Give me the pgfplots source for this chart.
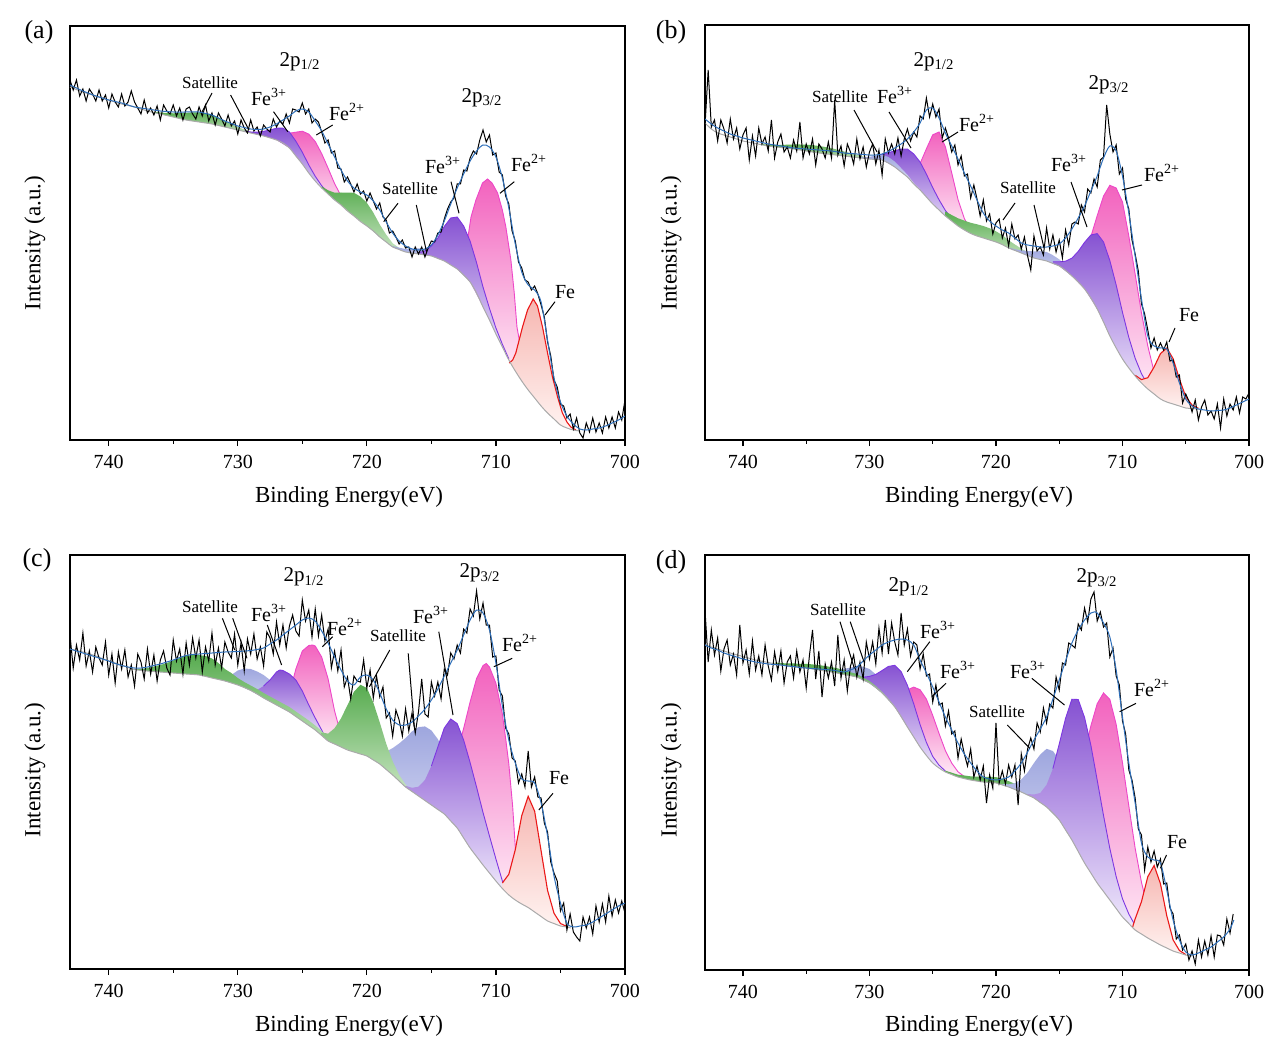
\documentclass[border=0pt]{standalone}
\usepackage{fontspec}
\setmainfont{Liberation Serif}
\usepackage{pgfplots}
\pgfplotsset{compat=1.18}
\definecolor{greenT}{RGB}{88,172,80}
\definecolor{greenB}{RGB}{198,228,192}
\definecolor{lavT}{RGB}{158,166,222}
\definecolor{lavB}{RGB}{232,235,250}
\definecolor{purT}{RGB}{134,82,210}
\definecolor{purB}{RGB}{238,231,251}
\definecolor{pinkT}{RGB}{242,98,190}
\definecolor{pinkB}{RGB}{255,238,247}
\definecolor{redT}{RGB}{246,182,177}
\definecolor{redB}{RGB}{255,243,241}
\definecolor{purL}{RGB}{125,55,225}
\definecolor{pinkL}{RGB}{238,70,200}
\definecolor{redL}{RGB}{235,25,25}
\definecolor{envB}{RGB}{45,110,185}
\definecolor{bgG}{RGB}{170,170,170}
\tikzset{
 gF/.style={draw=none, top color=greenT, bottom color=greenB},
 lF/.style={draw=none, top color=lavT, bottom color=lavB},
 pF/.style={draw=none, top color=purT, bottom color=purB},
 kF/.style={draw=none, top color=pinkT, bottom color=pinkB},
 rF/.style={draw=none, top color=redT, bottom color=redB},
 pL/.style={purL, line width=0.45pt},
 kL/.style={pinkL, line width=0.45pt},
 rL/.style={redL, line width=0.55pt},
}
\pgfplotsset{xps/.style={
  scale only axis, xmin=700, xmax=743, x dir=reverse, ymin=0,
  xtick={700,710,720,730,740}, minor xtick={705,715,725,735},
  ytick=\empty, xtick pos=left, tick align=outside,
  major tick length=3pt, minor tick length=1.8pt,
  every tick/.style={black, line width=0.6pt},
  axis line style={line width=0.7pt},
  tick label style={font=\fontsize{10}{12}\selectfont},
  xticklabel style={yshift=-1pt},
  /pgf/number format/assume math mode=true,
}}
\newcommand\fL{\fontsize{13}{15}\selectfont}
\newcommand\fP{\fontsize{10.5}{12}\selectfont}
\newcommand\fF{\fontsize{10}{12}\selectfont}
\newcommand\fS{\fontsize{8.5}{10}\selectfont}
\newcommand\fX{\fontsize{11.5}{13}\selectfont}
\begin{document}
\begin{tikzpicture}
\path[use as bounding box] (0,0) rectangle (641.5pt,-526.5pt);
% ================= (a) =================
\begin{axis}[xps, at={(35pt,-220pt)}, anchor=south west, width=277.5pt, height=207pt, ymax=414]
\addplot[gF] coordinates {(736.5,328.2)(736,327.5)(735.5,327)(735,326.7)(734.5,326.9)(734,327.1)(733.5,327.7)(733,327.7)(732.5,327)(732,325.4)(731.5,322.5)(731,319.4)(730.5,316.2)(730,313.1)(729.5,310.4)(729,308.1)(728.5,306.1)(729,307)(730,310)(731,313)(732,316)(733,318)(734,320)(735,323)(736,326)(736.5,327.5)} -- cycle;
\addplot[kF] coordinates {(727,303.6)(726.5,304.8)(726,306.8)(725.5,307.8)(725,308.8)(724.5,305.9)(724,298.5)(723.5,286.4)(723,271.7)(722.5,256.4)(722,244)(721.5,233.2)(721,225.7)(721,224)(722,235)(723,246)(724,259)(725,276)(726,292)(727,300)} -- cycle;
\addplot[kL] coordinates {(727,303.6)(726.5,304.8)(726,306.8)(725.5,307.8)(725,308.8)(724.5,305.9)(724,298.5)(723.5,286.4)(723,271.7)(722.5,256.4)(722,244)(721.5,233.2)(721,225.7)};
\addplot[pF] coordinates {(729.5,308.9)(729,308)(728.5,307.8)(728,308.7)(727.5,310)(727,311.8)(726.5,311.8)(726,308)(725.5,298.8)(725,287.8)(724.5,275)(724,263.7)(723.5,254.3)(723,247)(722.5,240.4)(723,246)(724,259)(725,276)(726,292)(727,300)(728,304)(729,307)(729.5,308.5)} -- cycle;
\addplot[pL] coordinates {(729.5,308.9)(729,308)(728.5,307.8)(728,308.7)(727.5,310)(727,311.8)(726.5,311.8)(726,308)(725.5,298.8)(725,287.8)(724.5,275)(724,263.7)(723.5,254.3)(723,247)(722.5,240.4)};
\addplot[gF] coordinates {(723.5,253.6)(723,249.7)(722.5,247.3)(722,247.5)(721.5,247.4)(721,247.2)(720.5,243.5)(720,237.2)(719.5,227.4)(719,215.5)(718.5,205.3)(718,196.7)(717.5,192.1)(717,188.6)(718,193)(719,203)(720,214)(721,224)(722,235)(723,246)(723.5,252)} -- cycle;
\addplot[lF] coordinates {(718,193.9)(717.5,192.3)(717,191)(716.5,191.4)(716,191.6)(715.5,191)(715,189.6)(714.5,185.9)(714,182)(713.5,176.8)(713,171.9)(714,179)(715,184)(716,186)(717,188)(718,193)} -- cycle;
\addplot[kF] coordinates {(712.8,168)(712.5,180)(712.2,200)(711.93,223)(711.55,240)(711.04,257)(710.65,261)(710.3,257)(709.87,247)(709.5,230)(709.23,213)(708.84,180)(708.58,147)(708.37,113)(708.19,100)(708,78)(707.85,62)(708,59)(709,80)(710,106)(711,133)(712,158)(712.5,165)(712.8,169)} -- cycle;
\addplot[kL] coordinates {(712.8,168)(712.5,180)(712.2,200)(711.93,223)(711.55,240)(711.04,257)(710.65,261)(710.3,257)(709.87,247)(709.5,230)(709.23,213)(708.84,180)(708.58,147)(708.37,113)(708.19,100)(708,78)(707.85,62)};
\addplot[pF] coordinates {(716,187.3)(715.5,189)(715,194)(714.5,202)(714,213.5)(713.5,222)(713,223)(712.5,214)(712,198.9)(711.5,177.3)(711,152.9)(710.5,131.6)(710,112)(709.5,95.7)(709,81.1)(709.5,93)(710,106)(711,133)(712,158)(713,171)(714,179)(715,184)(716,186)} -- cycle;
\addplot[pL] coordinates {(716,187.3)(715.5,189)(715,194)(714.5,202)(714,213.5)(713.5,222)(713,223)(712.5,214)(712,198.9)(711.5,177.3)(711,152.9)(710.5,131.6)(710,112)(709.5,95.7)(709,81.1)};
\addplot[rF] coordinates {(708.97,77)(708.7,80)(708.46,87)(708.2,100)(707.94,113)(707.55,130)(707.11,141)(706.78,134)(706.39,113)(706,87)(705.62,63)(705.2,42)(704.85,27)(704.5,18)(704.2,13)(703.8,10)(704,10)(705,15)(706,27)(707,42)(708,59)(708.97,79)} -- cycle;
\addplot[rL] coordinates {(708.97,77)(708.7,80)(708.46,87)(708.2,100)(707.94,113)(707.55,130)(707.11,141)(706.78,134)(706.39,113)(706,87)(705.62,63)(705.2,42)(704.85,27)(704.5,18)(704.2,13)(703.8,10)};
\addplot[bgG, line width=0.5pt, smooth] coordinates {(743,353)(742,348)(741,344)(740,340)(739,336)(738,333)(737,329)(736,326)(735,323)(734,320)(733,318)(732,316)(731,313)(730,310)(729,307)(728,304)(727,300)(726.5,297)(726,292)(725.5,284)(725,276)(724.5,267)(724,259)(723.5,252)(723,246)(722.5,240)(722,235)(721.5,229)(721,224)(720.5,218.5)(720,214)(719.5,209)(719,203)(718.5,198)(718,193)(717.5,190.5)(717,188)(716,186)(715,184)(714.5,181.5)(714,179)(713.5,175)(713,171)(712.5,165)(712,158)(711.5,147)(711,133)(710.5,120)(710,106)(709.5,93)(709,80)(708.5,69)(708,59)(707.5,50)(707,42)(706.5,34)(706,27)(705.5,21)(705,15)(704.5,12)(704,10)(703.5,9)};
\addplot[black, line width=0.5pt] coordinates {(743,360)(742.75,350)(742.5,360)(742.25,344)(742,351)(741.75,339)(741.5,351)(741.25,346)(741,339)(740.75,350)(740.5,339)(740.25,345)(740,332)(739.75,346)(739.5,338)(739.25,333)(739,346)(738.75,334)(738.5,338)(738.25,349)(738,338)(737.75,332)(737.5,326)(737.25,340)(737,327)(736.75,332)(736.5,325)(736.25,334)(736,320)(735.75,335)(735.5,329)(735.25,326)(735,335)(734.75,324)(734.5,332)(734.25,320)(734,331)(733.75,333)(733.5,326)(733.25,321)(733,333)(732.75,324)(732.5,335)(732.25,319)(732,327)(731.75,315)(731.5,327)(731.25,321)(731,314)(730.75,325)(730.5,314)(730.25,319)(730,306)(729.75,320)(729.5,312)(729.25,307)(729,320)(728.75,309)(728.5,313)(728.25,304)(728,315)(727.75,311)(727.5,308)(727.25,321)(727,313)(726.75,319)(726.5,316)(726.25,326)(726,317)(725.75,331)(725.5,330)(725.25,328)(725,337)(724.75,326)(724.5,331)(724.25,317)(724,321)(723.75,318)(723.5,308)(723.25,297)(723,300)(722.75,287)(722.5,289)(722.25,272)(722,271)(721.75,258)(721.5,263)(721.25,256)(721,248)(720.75,256)(720.5,246)(720.25,249)(720,239)(719.75,247)(719.5,239)(719.25,231)(719,237)(718.75,223)(718.5,220)(718.25,207)(718,209)(717.75,203)(717.5,196)(717.25,200)(717,192)(716.75,193)(716.5,183)(716.25,193)(716,186)(715.75,193)(715.5,183)(715.25,192)(715,199)(714.75,198)(714.5,207)(714.25,208)(714,221)(713.75,231)(713.5,238)(713.25,242)(713,256)(712.75,256)(712.5,270)(712.25,269)(712,282)(711.75,289)(711.5,286)(711.25,300)(711,310)(710.75,298)(710.5,305)(710.25,285)(710,287)(709.75,268)(709.5,265)(709.25,244)(709,236)(708.75,209)(708.5,199)(708.25,178)(708,172)(707.75,160)(707.5,158)(707.25,150)(707,154)(706.75,146)(706.5,135)(706.25,123)(706,98)(705.75,84)(705.5,60)(705.25,53)(705,36)(704.75,34)(704.5,22)(704.25,26)(704,11)(703.75,22)(703.5,7)(703.25,2)(703,17)(702.75,8)(702.5,22)(702.25,8)(702,17)(701.75,7)(701.5,23)(701.25,12)(701,23)(700.75,12)(700.5,28)(700.25,20)(700,40)};
\addplot[envB, line width=0.5pt, smooth] coordinates {(743,355)(742.5,352)(742,349)(741.5,346.5)(741,344)(740.5,342)(740,340)(739.5,338.5)(739,337)(738.5,335)(738,333)(737.5,332)(737,331)(736.5,330)(736,329)(735.5,328.5)(735,328)(734,328)(733,328)(732.5,326.5)(732,325)(731.5,322)(731,319)(730.5,316.5)(730,314)(729.5,312.5)(729,311)(728.5,310.5)(728,311)(727.5,313)(727,316)(726.5,320)(726,324)(725.5,329)(725,331)(724.5,328)(724,319)(723.5,309)(723,296)(722.5,283)(722,270)(721.5,259)(721,252)(720.5,248)(720,245)(719.5,239)(719,230)(718.5,218)(718,207)(717.5,199)(717,194)(716.5,191)(716,190)(715.5,191)(715,195)(714.5,205)(714,219)(713.5,236)(713,252)(712.5,266)(712,279)(711.5,289)(711,295)(710.5,293)(710,283)(709.5,262)(709,232)(708.5,196)(708,168)(707.5,155)(707,150)(706.5,138)(706,100)(705.5,62)(705,38)(704.5,24)(704,16)(703.5,11)(703,10)(702.5,11)(702,12)(701.5,14)(701,17)(700.5,20)(700,24)};
\end{axis}
% ================= (b) =================
\begin{axis}[xps, at={(352.5pt,-220pt)}, anchor=south west, width=272pt, height=207.5pt, ymax=415]
\addplot[gF] coordinates {(738.5,296)(738,295.2)(737.5,295)(737,295.1)(736.5,295.3)(736,295.5)(735.5,295.5)(735,295.3)(734.5,294.8)(734,294)(733.5,293)(733,291.8)(732.5,290.2)(732,288.5)(731.5,286.8)(731,285.1)(730.5,283.6)(730,282.2)(729.5,281.2)(730,281)(731,282.5)(732,284)(733,285.5)(734,287)(735,289)(736,291)(737,292.5)(738,294)(738.5,295)} -- cycle;
\addplot[kF] coordinates {(727.5,269)(727,266.8)(726.5,267.4)(726,276.4)(725.5,291.2)(725,305.2)(724.5,308)(724,293.2)(723.5,267.2)(723,240.4)(722.5,221.4)(722,210.3)(721.5,205)(722,206.5)(723,214)(724,224)(725,236)(726,250)(727,263)(727.5,268)} -- cycle;
\addplot[kL] coordinates {(727.5,269)(727,266.8)(726.5,267.4)(726,276.4)(725.5,291.2)(725,305.2)(724.5,308)(724,293.2)(723.5,267.2)(723,240.4)(722.5,221.4)(722,210.3)(721.5,205)};
\addplot[pF] coordinates {(730,282.1)(729.5,283.1)(729,285.5)(728.5,287.2)(728,289.3)(727.5,290.9)(727,291)(726.5,286)(726,278)(725.5,265.9)(725,252.3)(724.5,240.2)(724,229.5)(723.5,221.6)(723,215.1)(722.5,210.4)(723,214)(724,224)(725,236)(726,250)(727,263)(728,273)(729,280)(730,281)} -- cycle;
\addplot[pL] coordinates {(730,282.1)(729.5,283.1)(729,285.5)(728.5,287.2)(728,289.3)(727.5,290.9)(727,291)(726.5,286)(726,278)(725.5,265.9)(725,252.3)(724.5,240.2)(724,229.5)(723.5,221.6)(723,215.1)(722.5,210.4)};
\addplot[lF] coordinates {(731,282.9)(730.5,282.8)(730,283.2)(729.5,284.4)(729,285.4)(728.5,283)(728,278.4)(727.5,271.9)(727,265.2)(726.5,257)(726,250.4)(726.5,256)(727,263)(728,273)(729,280)(730,281)(731,282.5)} -- cycle;
\addplot[gF] coordinates {(724,228.4)(723.5,225)(723,221.7)(722.5,219.4)(722,217.2)(721.5,215.7)(721,214)(720.5,211.7)(720,208.7)(719.5,204.9)(719,199.7)(718.5,195.5)(718,191.4)(717.5,187.6)(717,184)(716.5,181.8)(716,179.8)(716.5,180.5)(717,182)(718,187)(719,192)(720,198)(721,202)(722,206.5)(723,214)(724,224)} -- cycle;
\addplot[lF] coordinates {(719,192.6)(718.5,190.8)(718,189.6)(717.5,189)(717,188.6)(716.5,188.8)(716,188)(715.5,184.8)(715,180.6)(714.5,174)(714,166.6)(713.5,159.3)(713,151.6)(714,164)(715,174)(716,179)(717,182)(718,187)(719,192)} -- cycle;
\addplot[kF] coordinates {(714.5,172.9)(714,172.5)(713.5,176.6)(713,186.7)(712.5,203.3)(712,224.3)(711.5,243.9)(711,254.7)(710.5,252)(710,238)(709.5,204)(709,166)(708.5,127)(708,94)(707.5,68)(707,51)(706.5,42)(707,41)(708,51)(709,64)(710,81)(711,104)(712,131)(713,151)(714,164)(714.5,169.5)} -- cycle;
\addplot[kL] coordinates {(714.5,172.9)(714,172.5)(713.5,176.6)(713,186.7)(712.5,203.3)(712,224.3)(711.5,243.9)(711,254.7)(710.5,252)(710,238)(709.5,204)(709,166)(708.5,127)(708,94)(707.5,68)(707,51)(706.5,42)};
\addplot[pF] coordinates {(715.5,178.2)(715,178.2)(714.5,178.8)(714,181.8)(713.5,188.6)(713,197.6)(712.5,205)(712,206.4)(711.5,198)(711,179.4)(710.5,155)(710,127.6)(709.5,102.6)(709,81.8)(708.5,66.3)(708,55.2)(707.5,47.7)(708,51)(709,64)(710,81)(711,104)(712,131)(713,151)(714,164)(715,174)(715.5,176.5)} -- cycle;
\addplot[pL] coordinates {(715.5,178.2)(715,178.2)(714.5,178.8)(714,181.8)(713.5,188.6)(713,197.6)(712.5,205)(712,206.4)(711.5,198)(711,179.4)(710.5,155)(710,127.6)(709.5,102.6)(709,81.8)(708.5,66.3)(708,55.2)(707.5,47.7)};
\addplot[rF] coordinates {(709,64.7)(708.5,60.4)(708,62.3)(707.5,73)(707,86.4)(706.5,92)(706,81.4)(705.5,61)(705,43.3)(704.5,34.9)(704,31.7)(704.5,31.5)(705,32)(706,36)(707,41)(708,51)(709,64)} -- cycle;
\addplot[rL] coordinates {(709,64.7)(708.5,60.4)(708,62.3)(707.5,73)(707,86.4)(706.5,92)(706,81.4)(705.5,61)(705,43.3)(704.5,34.9)(704,31.7)};
\addplot[bgG, line width=0.5pt, smooth] coordinates {(743,317)(742.5,311)(742,307)(741.5,305)(741,303)(740.5,301)(740,299)(739,296.5)(738,294)(737,292.5)(736,291)(735,289)(734,287)(733,285.5)(732,284)(731,282.5)(730,281)(729.5,280.5)(729,280)(728.5,277)(728,273)(727.5,268)(727,263)(726.5,256)(726,250)(725.5,243)(725,236)(724.5,230)(724,224)(723.5,219)(723,214)(722.5,210)(722,206.5)(721.5,204)(721,202)(720.5,200)(720,198)(719.5,195.5)(719,192)(718.5,189.5)(718,187)(717.5,184.5)(717,182)(716.5,180.5)(716,179)(715.5,176.5)(715,174)(714.5,169.5)(714,164)(713.5,158)(713,151)(712.5,142)(712,131)(711.5,118)(711,104)(710.5,92)(710,81)(709.5,72)(709,64)(708.5,57)(708,51)(707.5,46)(707,41)(706.5,38)(706,36)(705.5,34)(705,32)(704.5,31.5)(704,31)};
\addplot[black, line width=0.5pt] coordinates {(743,314)(742.75,370)(742.5,313)(742.25,320)(742,299)(741.75,320)(741.5,311)(741.25,297)(741,321)(740.75,301)(740.5,312)(740.25,291)(740,305)(739.75,312)(739.5,280)(739.25,304)(739,284)(738.75,312)(738.5,296)(738.25,303)(738,289)(737.75,320)(737.5,282)(737.25,298)(737,306)(736.75,288)(736.5,293)(736.25,282)(736,300)(735.75,289)(735.5,318)(735.25,282)(735,296)(734.75,286)(734.5,301)(734.25,275)(734,296)(733.75,291)(733.5,282)(733.25,298)(733,282)(732.75,340)(732.5,285)(732.25,294)(732,274)(731.75,296)(731.5,288)(731.25,276)(731,301)(730.75,281)(730.5,293)(730.25,273)(730,288)(729.75,296)(729.5,276)(729.25,290)(729,265)(728.75,301)(728.5,287)(728.25,296)(728,286)(727.75,302)(727.5,284)(727.25,301)(727,311)(726.75,299)(726.5,308)(726.25,303)(726,324)(725.75,321)(725.5,342)(725.25,323)(725,336)(724.75,323)(724.5,331)(724.25,302)(724,312)(723.75,302)(723.5,288)(723.25,295)(723,275)(722.75,284)(722.5,264)(722.25,266)(722,242)(721.75,255)(721.5,241)(721.25,224)(721,240)(720.75,219)(720.5,226)(720.25,206)(720,217)(719.75,221)(719.5,202)(719.25,212)(719,194)(718.75,216)(718.5,201)(718.25,205)(718,191)(717.75,203)(717.5,184)(717.25,170)(717,204)(716.75,189)(716.5,193)(716.25,185)(716,212)(715.75,191)(715.5,205)(715.25,188)(715,200)(714.75,182)(714.5,210)(714.25,195)(714,216)(713.75,218)(713.5,216)(713.25,235)(713,228)(712.75,251)(712.5,247)(712.25,261)(712,253)(711.75,280)(711.5,283)(711.25,335)(711,306)(710.75,288)(710.5,295)(710.25,266)(710,272)(709.75,241)(709.5,231)(709.25,200)(709,186)(708.75,169)(708.5,136)(708.25,126)(708,110)(707.75,92)(707.5,102)(707.25,90)(707,97)(706.75,90)(706.5,98)(706.25,79)(706,80)(705.75,63)(705.5,65)(705.25,37)(705,46)(704.75,39)(704.5,28)(704.25,40)(704,20)(703.75,33)(703.5,40)(703.25,25)(703,29)(702.75,21)(702.5,36)(702.25,12)(702,41)(701.75,24)(701.5,36)(701.25,30)(701,43)(700.75,27)(700.5,43)(700.25,41)(700,47)};
\addplot[envB, line width=0.5pt, smooth] coordinates {(743,321)(742.5,316)(742,312)(741.5,309)(741,306)(740.5,304)(740,302)(739.5,300.5)(739,299)(738.5,297.5)(738,296)(737.5,295)(737,294)(736.5,293)(736,292)(735.5,291.5)(735,291)(734.5,290.5)(734,290)(733.5,289.5)(733,289)(732.5,288)(732,287)(731.5,286.5)(731,286)(730.5,285.5)(730,285)(729.5,285)(729,286)(728.5,288.5)(728,292)(727.5,296)(727,301)(726.5,308)(726,317)(725.5,330)(725,332)(724.5,322)(724,307)(723.5,294)(723,281)(722.5,267)(722,254)(721.5,240)(721,227)(720.5,219)(720,214)(719.5,210)(719,207)(718.5,202)(718,197)(717.5,195)(717,194)(716.5,193)(716,193)(715.5,194)(715,196)(714.5,202)(714,211)(713.5,222)(713,234)(712.5,249)(712,264)(711.5,282)(711,294)(710.5,289)(710,264)(709.5,227)(709,184)(708.5,141)(708,104)(707.5,94)(707,92)(706.5,91)(706,77)(705.5,57)(705,41)(704.5,34)(704,31)(703.5,30)(703,29)(702.5,29.5)(702,30)(701.5,32)(701,35)(700.5,38)(700,41)};
\end{axis}
% ================= (c) =================
\begin{axis}[xps, at={(35pt,-484.5pt)}, anchor=south west, width=277.5pt, height=207pt, ymax=414]
\addplot[lF] coordinates {(731,289)(730.5,294)(730,298.5)(729.5,300.5)(729,300)(728.5,297.5)(728,294)(727.5,289)(727,282)(726.5,273)(726,264)(725.5,255)(725,248)(726,257)(727,264)(728,271)(729,278.5)(730,284)(731,288)} -- cycle;
\addplot[kF] coordinates {(726.5,262)(726,275)(725.5,300)(725,318)(724.5,323.5)(724.2,324)(724,323)(723.5,312)(723,290)(722.5,258)(722,234)(721.7,224)(722,222)(723,228)(724,239)(725,248)(726,257)(726.5,260.5)} -- cycle;
\addplot[kL] coordinates {(726.5,262)(726,275)(725.5,300)(725,318)(724.5,323.5)(724.2,324)(724,323)(723.5,312)(723,290)(722.5,258)(722,234)(721.7,224)};
\addplot[pF] coordinates {(729.5,282.5)(729,280.5)(728.5,279)(728,283)(727.5,289)(727,297)(726.75,299)(726.5,298.5)(726,295)(725.5,289)(725,278)(724.5,264)(724,251)(723.5,239)(723.1,229)(723.5,233.5)(724,239)(725,248)(726,257)(727,264)(728,271)(728.5,275)(729,278.5)(729.5,281.5)} -- cycle;
\addplot[pL] coordinates {(728,283)(727.5,289)(727,297)(726.75,299)(726.5,298.5)(726,295)(725.5,289)(725,278)(724.5,264)(724,251)(723.5,239)(723.1,229)};
\addplot[gF] coordinates {(738,300)(737.5,300)(737,301)(736.5,302.5)(736,304)(735.5,306)(735,308.5)(734.5,311)(734,313)(733.5,314)(733,314)(732.5,313)(732,310.5)(731.5,306)(731,300)(730.5,296)(730,291)(729.5,287)(729,283.5)(728.5,280)(728,276)(727.5,272.5)(727,269)(726.5,265.5)(726,262)(725.5,257.5)(725,253)(724.5,248.5)(724,243.5)(723.5,238)(723,232)(722.5,228.5)(722,225)(721.5,221)(721,218)(721,217)(722,222)(723,228)(724,239)(725,248)(726,257)(727,264)(728,271)(729,278.5)(730,284)(731,288)(732,291)(733,294)(734,295)(735,296)(736,297)(737,298)(738,299.5)} -- cycle;
\addplot[lF] coordinates {(719,216.3)(718.5,217.5)(718,220.9)(717.5,225.5)(717,231)(716.5,237.6)(716,241.9)(715.5,242.6)(715,238.6)(714.5,229.9)(714,217.1)(713.5,199.3)(713,180.8)(712.5,159.9)(712,140.6)(711.5,125)(711,111.4)(710.5,100.1)(711,104)(712,121)(713,141)(714,155)(715,164)(716,173)(717,182)(718,194)(719,205)} -- cycle;
\addplot[gF] coordinates {(723.5,236.5)(723,235.4)(722.5,240.8)(722,250.7)(721.5,263.9)(721,277.2)(720.5,284.2)(720,281.1)(719.5,266.5)(719,246.6)(718.5,225.3)(718,207.7)(717.5,194.2)(717,184.5)(716.5,178.3)(717,182)(718,194)(719,205)(720,213)(721,217)(722,222)(723,228)(723.5,233.5)} -- cycle;
\addplot[kF] coordinates {(713.5,195.7)(713,216.6)(712.5,240.6)(712,267)(711.5,290.5)(711,303.5)(710.75,305.5)(710.5,302)(710,285.7)(709.5,255)(709.23,229)(709,205)(708.7,162)(708.45,112)(708.3,85)(708.1,68)(708,65)(709,74)(710,88)(711,104)(712,121)(713,141)(713.5,148)} -- cycle;
\addplot[kL] coordinates {(713.5,195.7)(713,216.6)(712.5,240.6)(712,267)(711.5,290.5)(711,303.5)(710.75,305.5)(710.5,302)(710,285.7)(709.5,255)(709.23,229)(709,205)(708.7,162)(708.45,112)(708.3,85)(708.1,68)};
\addplot[pF] coordinates {(717,183.2)(716.5,181.2)(716,182.3)(715.5,189)(715,203)(714.5,222)(714,241)(713.5,250)(713,245.4)(712.5,228.9)(712,206.4)(711.5,181.9)(711,156.5)(710.5,133)(710,110)(709.5,88)(709.2,78)(709.5,80.5)(710,88)(711,104)(712,121)(713,141)(714,155)(715,164)(716,173)(716.5,177.5)(717,182)} -- cycle;
\addplot[pL] coordinates {(715,203)(714.5,222)(714,241)(713.5,250)(713,245.4)(712.5,228.9)(712,206.4)(711.5,181.9)(711,156.5)(710.5,133)(710,110)(709.5,88)(709.2,78)};
\addplot[rF] coordinates {(709.5,86)(709,94.7)(708.5,119.3)(708,153.3)(707.5,172.7)(707,157.8)(706.5,118.1)(706,78.7)(705.5,55.8)(705,45.5)(704.5,42.5)(705,43)(706,48)(707,57)(708,65)(709,74)(709.5,80.5)} -- cycle;
\addplot[rL] coordinates {(709.5,86)(709,94.7)(708.5,119.3)(708,153.3)(707.5,172.7)(707,157.8)(706.5,118.1)(706,78.7)(705.5,55.8)(705,45.5)(704.5,42.5)};
\addplot[bgG, line width=0.5pt, smooth] coordinates {(743,320)(742,317)(741,313)(740,308)(739,304)(738,299.5)(737,298)(736,297)(735,296)(734,295)(733,294)(732,291)(731,288)(730,284)(729.5,281.5)(729,278.5)(728.5,275)(728,271)(727.5,267.5)(727,264)(726.5,260.5)(726,257)(725.5,252.5)(725,248)(724.5,243.5)(724,239)(723.5,233.5)(723,228)(722.5,225)(722,222)(721.5,219)(721,217)(720.5,215)(720,213)(719.5,209)(719,205)(718.5,199.5)(718,194)(717.5,188)(717,182)(716.5,177.5)(716,173)(715.5,168.5)(715,164)(714.5,159.5)(714,155)(713.5,148)(713,141)(712.5,131)(712,121)(711.5,112.5)(711,104)(710.5,96)(710,88)(709.5,80.5)(709,74)(708.5,69)(708,65)(707.5,61.5)(707,57)(706.5,52.5)(706,48)(705.5,45.5)(705,43)(704.5,42)(704.2,41)};
\addplot[black, line width=0.5pt] coordinates {(743,334)(742.75,301)(742.5,324)(742.25,309)(742,336)(741.75,303)(741.5,318)(741.25,297)(741,322)(740.75,311)(740.5,304)(740.25,327)(740,294)(739.75,315)(739.5,286)(739.25,317)(739,300)(738.75,319)(738.5,292)(738.25,304)(738,283)(737.75,315)(737.5,307)(737.25,290)(737,320)(736.75,295)(736.5,314)(736.25,288)(736,309)(735.75,318)(735.5,301)(735.25,294)(735,329)(734.75,308)(734.5,320)(734.25,295)(734,326)(733.75,304)(733.5,331)(733.25,311)(733,329)(732.75,297)(732.5,322)(732.25,308)(732,336)(731.75,304)(731.5,321)(731.25,301)(731,327)(730.75,317)(730.5,311)(730.25,335)(730,304)(729.75,326)(729.5,298)(729.25,330)(729,315)(728.75,335)(728.5,310)(728.25,322)(728,303)(727.75,337)(727.5,331)(727.25,315)(727,347)(726.75,324)(726.5,344)(726.25,321)(726,343)(725.75,354)(725.5,338)(725.25,333)(725,369)(724.75,348)(724.5,359)(724.25,332)(724,360)(723.75,333)(723.5,354)(723.25,328)(723,340)(722.75,301)(722.5,318)(722.25,298)(722,319)(721.75,282)(721.5,292)(721.25,270)(721,293)(720.75,288)(720.5,287)(720.25,309)(720,281)(719.75,299)(719.5,271)(719.25,293)(719,272)(718.75,282)(718.5,251)(718.25,256)(718,233)(717.75,259)(717.5,249)(717.25,233)(717,260)(716.75,238)(716.5,256)(716.25,236)(716,257)(715.75,290)(715.5,255)(715.25,252)(715,287)(714.75,273)(714.5,287)(714.25,270)(714,300)(713.75,294)(713.5,316)(713.25,310)(713,324)(712.75,316)(712.5,340)(712.25,336)(712,360)(711.75,353)(711.5,378)(711.25,350)(711,366)(710.75,344)(710.5,344)(710.25,312)(710,313)(709.75,279)(709.5,273)(709.25,241)(709,235)(708.75,211)(708.5,208)(708.25,186)(708,195)(707.75,182)(707.5,218)(707.25,182)(707,192)(706.75,172)(706.5,171)(706.25,146)(706,137)(705.75,107)(705.5,96)(705.25,88)(705,58)(704.75,66)(704.5,39)(704.25,55)(704,37)(703.75,32)(703.5,28)(703.25,52)(703,41)(702.75,52)(702.5,35)(702.25,63)(702,47)(701.75,65)(701.5,47)(701.25,73)(701,53)(700.75,69)(700.5,56)(700.25,68)(700,56)};
\addplot[envB, line width=0.5pt, smooth] coordinates {(743,320)(742.5,318)(742,316)(741.5,314)(741,312)(740.5,310)(740,308)(739.5,305.5)(739,303.5)(738.5,302)(738,301)(737.5,301)(737,302)(736.5,303.5)(736,305)(735.5,307)(735,309)(734.5,311.5)(734,313.5)(733.5,314.5)(733,315)(732,316)(731,317)(730,317.5)(729,318.5)(728.5,319.5)(728,321)(727.5,325)(727,329)(726.5,334)(726,339)(725.5,344)(725,349)(724.5,351)(724,348)(723.5,338)(723,326)(722.5,312)(722,299)(721.5,288)(721,284)(720.5,292)(720,294)(719.5,289)(719,276)(718.5,260)(718,249)(717.5,244)(717,244)(716.5,247)(716,253)(715.5,260)(715,269)(714.5,280)(714,293)(713.5,306)(713,319)(712.5,334)(712,349)(711.5,359)(711,356)(710.5,339)(710,306)(709.5,263)(709,229)(708.5,206)(708,190)(707.5,188)(707,186)(706.5,166)(706,133)(705.5,93)(705,66)(704.5,46)(704,42)(703.5,43)(703,44)(702.5,47)(702,51)(701.5,55)(701,59)(700.5,63)(700,66)};
\end{axis}
% ================= (d) =================
\begin{axis}[xps, at={(352.5pt,-485pt)}, anchor=south west, width=272pt, height=207.5pt, ymax=415]
\addplot[lF] coordinates {(733,299.8)(732.5,300.4)(732,301.2)(731.5,302.4)(731,304.2)(730.5,303.2)(730,301)(729.5,295.7)(729,288.2)(728.5,278.9)(728,268.7)(727.5,256.9)(727,244.8)(726.5,233.9)(727,243)(728,263)(729,277)(730,287)(731,293)(732,295.5)(733,298)} -- cycle;
\addplot[kF] coordinates {(728,276)(727.5,277.3)(727,280.2)(726.5,282.9)(726,280.3)(725.5,270.9)(725,254.6)(724.5,236.5)(724,219.4)(723.5,206.9)(723,198.2)(722.5,193.5)(723,193)(724,198)(725,207)(726,223)(727,243)(728,263)} -- cycle;
\addplot[kL] coordinates {(728,276)(727.5,277.3)(727,280.2)(726.5,282.9)(726,280.3)(725.5,270.9)(725,254.6)(724.5,236.5)(724,219.4)(723.5,206.9)(723,198.2)(722.5,193.5)};
\addplot[pF] coordinates {(731,294)(730.5,292.8)(730,293.6)(729.5,295.6)(729,299.5)(728.5,303.6)(728,304.7)(727.5,298.5)(727,284.7)(726.5,266.1)(726,245.5)(725.5,227.6)(725,213.6)(724.5,204.8)(724,199)(724.5,202)(725,207)(726,223)(727,243)(728,263)(729,277)(730,287)(731,293)} -- cycle;
\addplot[pL] coordinates {(731,294)(730.5,292.8)(730,293.6)(729.5,295.6)(729,299.5)(728.5,303.6)(728,304.7)(727.5,298.5)(727,284.7)(726.5,266.1)(726,245.5)(725.5,227.6)(725,213.6)(724.5,204.8)(724,199)};
\addplot[gF] coordinates {(737.5,307.5)(737,307)(736.5,306.5)(736,306.6)(735.5,306.2)(735,306.2)(734.5,305.6)(734,304.9)(733.5,304)(733,302.9)(732.5,301.6)(732,299.7)(731.5,297.7)(731,296.1)(730.5,292.5)(730,289)(729.5,284)(729,278.1)(728.5,271.2)(728,263.5)(727.5,253.8)(728,263)(729,277)(730,287)(731,293)(732,295.5)(733,298)(734,300)(735,302)(736,303.5)(737,305)(737.5,306)} -- cycle;
\addplot[gF] coordinates {(724,199.3)(723.5,197.3)(723,195.3)(722.5,194.5)(722,193.7)(721.5,193.4)(721,193)(720.5,193.1)(720,192.9)(719.5,191)(719,188.9)(718.5,186.1)(718,183)(717.5,179.4)(717,175.7)(716.5,170.5)(716,165.3)(715.5,158.8)(715,151.3)(714.5,140.9)(715,150)(716,163)(717,172)(718,178)(719,183)(720,187)(721,188)(722,190)(723,193)(724,198)} -- cycle;
\addplot[lF] coordinates {(719.5,186)(719,185.7)(718.5,186.8)(718,190.6)(717.5,197.4)(717,207)(716.5,215.5)(716,221.2)(715.5,219)(715,210.4)(714.5,196)(714,179.2)(713.5,159.6)(713,139.6)(712.5,121.6)(712,104.7)(711.5,90.5)(711,77.8)(710.5,66.3)(711,70)(712,87)(713,107)(714,130)(715,150)(716,163)(717,172)(718,178)(719,183)(719.5,185)} -- cycle;
\addplot[kF] coordinates {(714,176.7)(713.5,193.6)(713,217.1)(712.5,244.1)(712,266.2)(711.5,277.1)(711,270.6)(710.5,245.7)(710,207.1)(709.5,164.1)(709,121.8)(708.5,87.7)(708,61.7)(707.5,44.1)(707,32)(707.5,28.5)(708,32)(709,40)(710,53)(711,70)(712,87)(713,107)(714,130)} -- cycle;
\addplot[kL] coordinates {(714,176.7)(713.5,193.6)(713,217.1)(712.5,244.1)(712,266.2)(711.5,277.1)(711,270.6)(710.5,245.7)(710,207.1)(709.5,164.1)(709,121.8)(708.5,87.7)(708,61.7)(707.5,44.1)(707,32)};
\addplot[pF] coordinates {(717.5,176)(717,175.5)(716.5,177)(716,185.2)(715.5,201.4)(715,226)(714.5,251.7)(714,270.8)(713.5,270.5)(713,252.6)(712.5,224.8)(712,189.9)(711.5,154.5)(711,121.5)(710.5,93.4)(710,71.2)(709.5,56)(709,44.6)(709.5,46.5)(710,53)(711,70)(712,87)(713,107)(714,130)(715,150)(716,163)(716.5,167.5)(717,172)(717.5,175)} -- cycle;
\addplot[pL] coordinates {(715.5,201.4)(715,226)(714.5,251.7)(714,270.8)(713.5,270.5)(713,252.6)(712.5,224.8)(712,189.9)(711.5,154.5)(711,121.5)(710.5,93.4)(710,71.2)(709.5,56)(709,44.6)};
\addplot[rF] coordinates {(709.2,43)(709,51.1)(708.5,68.3)(708,93.3)(707.5,104.5)(707,86.3)(706.5,54.3)(706,30.1)(705.5,19.5)(705,15.4)(705.5,17)(706,19)(707,25)(708,32)(709,40)(709.2,41)} -- cycle;
\addplot[rL] coordinates {(709.2,43)(709,51.1)(708.5,68.3)(708,93.3)(707.5,104.5)(707,86.3)(706.5,54.3)(706,30.1)(705.5,19.5)(705,15.4)};
\addplot[bgG, line width=0.5pt, smooth] coordinates {(743,325)(742,321)(741,317)(740,313.5)(739,310)(738,307.5)(737,305)(736,303.5)(735,302)(734,300)(733,298)(732,295.5)(731,293)(730.5,290)(730,287)(729.5,282.5)(729,277)(728.5,270.5)(728,263)(727.5,253.5)(727,243)(726.5,233)(726,223)(725.5,214.5)(725,207)(724.5,202)(724,198)(723.5,195.5)(723,193)(722,190)(721,188)(720,187)(719.5,185)(719,183)(718.5,180.5)(718,178)(717.5,175)(717,172)(716.5,167.5)(716,163)(715.5,157)(715,150)(714.5,140)(714,130)(713.5,118.5)(713,107)(712.5,97)(712,87)(711.5,78.5)(711,70)(710.5,61.5)(710,53)(709.5,46.5)(709,40)(708.5,36)(708,32)(707.5,28.5)(707,25)(706.5,22)(706,19)(705.5,17)(705,15)(704.5,14)};
\addplot[black, line width=0.5pt] coordinates {(743,360)(742.75,308)(742.5,340)(742.25,315)(742,332)(741.75,299)(741.5,321)(741.25,330)(741,305)(740.75,316)(740.5,295)(740.25,345)(740,307)(739.75,320)(739.5,296)(739.25,329)(739,300)(738.75,314)(738.5,295)(738.25,325)(738,304)(737.75,290)(737.5,318)(737.25,299)(737,319)(736.75,287)(736.5,308)(736.25,314)(736,292)(735.75,319)(735.5,298)(735.25,310)(735,282)(734.75,314)(734.5,340)(734.25,291)(734,319)(733.75,273)(733.5,306)(733.25,292)(733,308)(732.75,284)(732.5,335)(732.25,292)(732,310)(731.75,279)(731.5,304)(731.25,315)(731,293)(730.75,308)(730.5,291)(730.25,328)(730,311)(729.75,328)(729.5,306)(729.25,342)(729,317)(728.75,350)(728.5,316)(728.25,347)(728,328)(727.75,315)(727.5,357)(727.25,325)(727,341)(726.75,314)(726.5,328)(726.25,325)(726,301)(725.75,316)(725.5,294)(725.25,296)(725,268)(724.75,285)(724.5,265)(724.25,267)(724,244)(723.75,259)(723.5,236)(723.25,239)(723,212)(722.75,231)(722.5,216)(722.25,204)(722,221)(721.75,193)(721.5,204)(721.25,190)(721,204)(720.75,167)(720.5,195)(720.25,182)(720,247)(719.75,187)(719.5,199)(719.25,186)(719,205)(718.75,193)(718.5,205)(718.25,165)(718,216)(717.75,199)(717.5,221)(717.25,232)(717,221)(716.75,247)(716.5,238)(716.25,262)(716,247)(715.75,266)(715.5,262)(715.25,293)(715,280)(714.75,307)(714.5,305)(714.25,327)(714,325)(713.75,322)(713.5,346)(713.25,340)(713,362)(712.75,348)(712.5,371)(712.25,378)(712,349)(711.75,358)(711.5,343)(711.25,347)(711,313)(710.75,322)(710.5,294)(710.25,285)(710,249)(709.75,236)(709.5,200)(709.25,190)(709,172)(708.75,141)(708.5,135)(708.25,100)(708,123)(707.75,108)(707.5,119)(707.25,103)(707,111)(706.75,86)(706.5,87)(706.25,62)(706,56)(705.75,31)(705.5,35)(705.25,20)(705,26)(704.75,10)(704.5,19)(704.25,6)(704,30)(703.75,13)(703.5,29)(703.25,15)(703,34)(702.75,13)(702.5,35)(702.25,34)(702,25)(701.75,51)(701.5,37)(701.25,56)};
\addplot[envB, line width=0.5pt, smooth] coordinates {(743,325)(742.5,322)(742,320)(741.5,317)(741,315)(740.5,313)(740,311)(739.5,309.5)(739,308)(738.5,307)(738,306)(737.5,305.5)(737,305)(736.5,304)(736,303.5)(735.5,302.5)(735,302)(734.5,301.5)(734,301)(733.5,300.5)(733,300)(732.5,299)(732,298)(731.5,300)(731,303)(730.5,309)(730,315)(729.5,320)(729,325)(728.5,328)(728,330)(727.5,331)(727,330)(726.5,325)(726,310)(725.5,297)(725,283)(724.5,268)(724,253)(723.5,240)(723,227)(722.5,216)(722,207)(721.5,199)(721,193)(720.5,191)(720,190)(719.5,191)(719,193)(718.5,199)(718,207)(717.5,218)(717,230)(716.5,241)(716,253)(715.5,271)(715,290)(714.5,309)(714,327)(713.5,340)(713,350)(712.5,357)(712.25,358)(712,357)(711.5,347)(711,333)(710.5,300)(710,253)(709.5,207)(709,167)(708.5,127)(708,113)(707.5,110)(707,107)(706.5,80)(706,50)(705.5,30)(705,18)(704.5,15)(704,17)(703.5,20)(703,23)(702.5,28)(702,33)(701.5,41)(701.2,50)};
\end{axis}
% ================= annotations =================
\begin{scope}[x=0.5pt, y=-0.5pt, line width=0.5pt]
% (a)
\node[font=\fL] at (39,32) {(a)};
\node[font=\fP] at (300,62) {2p\textsubscript{1/2}};
\node[font=\fS] at (210,83) {Satellite};
\node[font=\fF] at (269,97) {Fe\textsuperscript{3+}};
\node[font=\fF] at (347,112) {Fe\textsuperscript{2+}};
\node[font=\fP] at (482,98) {2p\textsubscript{3/2}};
\node[font=\fF] at (443,165) {Fe\textsuperscript{3+}};
\node[font=\fS] at (410,189) {Satellite};
\node[font=\fF] at (529,163) {Fe\textsuperscript{2+}};
\node[font=\fF] at (565,292) {Fe};
\draw (212,93)--(202,112); \draw (230.6,95)--(249,130); \draw (273.5,111.7)--(287.8,131.7);
\draw (332.7,125)--(316.3,135); \draw (398,203.3)--(383.7,221.7); \draw (416.3,205)--(426.5,251.7);
\draw (451,181.7)--(459,213.3); \draw (514.3,181.7)--(500,193.3); \draw (555,301.7)--(545,315);
\node[font=\fX] at (349,497) {Binding Energy(eV)};
\node[font=\fX, rotate=90] at (35,243) {Intensity (a.u.)};
% (b)
\node[font=\fL] at (671,32) {(b)};
\node[font=\fP] at (934,62) {2p\textsubscript{1/2}};
\node[font=\fS] at (840,97) {Satellite};
\node[font=\fF] at (895,95) {Fe\textsuperscript{3+}};
\node[font=\fF] at (977,123) {Fe\textsuperscript{2+}};
\node[font=\fP] at (1109,85) {2p\textsubscript{3/2}};
\node[font=\fF] at (1069,163) {Fe\textsuperscript{3+}};
\node[font=\fS] at (1028,188) {Satellite};
\node[font=\fF] at (1162,173) {Fe\textsuperscript{2+}};
\node[font=\fF] at (1189,315) {Fe};
\draw (854,110)--(877,152); \draw (889,112)--(911,148); \draw (958,132)--(942,142);
\draw (1015,203)--(1003,220); \draw (1034,205)--(1044,248); \draw (1071,182)--(1087,227);
\draw (1142,185)--(1122,190); \draw (1175,328)--(1169,342);
\node[font=\fX] at (979,497) {Binding Energy(eV)};
\node[font=\fX, rotate=90] at (671,243) {Intensity (a.u.)};
% (c)
\node[font=\fL] at (37,560) {(c)};
\node[font=\fP] at (304,577) {2p\textsubscript{1/2}};
\node[font=\fS] at (210,607) {Satellite};
\node[font=\fF] at (269,613) {Fe\textsuperscript{3+}};
\node[font=\fF] at (345,627) {Fe\textsuperscript{2+}};
\node[font=\fS] at (398,636) {Satellite};
\node[font=\fP] at (480,573) {2p\textsubscript{3/2}};
\node[font=\fF] at (431,615) {Fe\textsuperscript{3+}};
\node[font=\fF] at (520,643) {Fe\textsuperscript{2+}};
\node[font=\fF] at (559,778) {Fe};
\draw (222.4,618.3)--(234.7,650); \draw (232.7,618.3)--(247,658.3); \draw (267.3,625)--(281.6,665);
\draw (332.7,636.7)--(322.4,646.7); \draw (389.8,650)--(369.4,686.7); \draw (408.2,653.3)--(414.3,726.7);
\draw (438.8,631.7)--(453,715); \draw (512.2,658.3)--(493.9,666.7); \draw (553,793.3)--(538.8,810);
\node[font=\fX] at (349,1026) {Binding Energy(eV)};
\node[font=\fX, rotate=90] at (35,770) {Intensity (a.u.)};
% (d)
\node[font=\fL] at (671,562) {(d)};
\node[font=\fP] at (909,587) {2p\textsubscript{1/2}};
\node[font=\fS] at (838,610) {Satellite};
\node[font=\fF] at (938,630) {Fe\textsuperscript{3+}};
\node[font=\fF] at (958,670) {Fe\textsuperscript{3+}};
\node[font=\fF] at (1028,670) {Fe\textsuperscript{3+}};
\node[font=\fS] at (997,712) {Satellite};
\node[font=\fP] at (1097,578) {2p\textsubscript{3/2}};
\node[font=\fF] at (1152,688) {Fe\textsuperscript{2+}};
\node[font=\fF] at (1177,842) {Fe};
\draw (840,621.7)--(854.3,668.3); \draw (850.2,621.7)--(864.5,663.3); \draw (929.8,641.7)--(907.3,671.7);
\draw (946,683.3)--(931.8,696.7); \draw (1031.8,678.3)--(1064.5,705); \draw (1007.3,725)--(1029.8,748.3);
\draw (1136,703.3)--(1119.6,711.7); \draw (1166.5,855)--(1160.4,868.3);
\node[font=\fX] at (979,1026) {Binding Energy(eV)};
\node[font=\fX, rotate=90] at (671,770) {Intensity (a.u.)};
\end{scope}
\end{tikzpicture}
\end{document}
